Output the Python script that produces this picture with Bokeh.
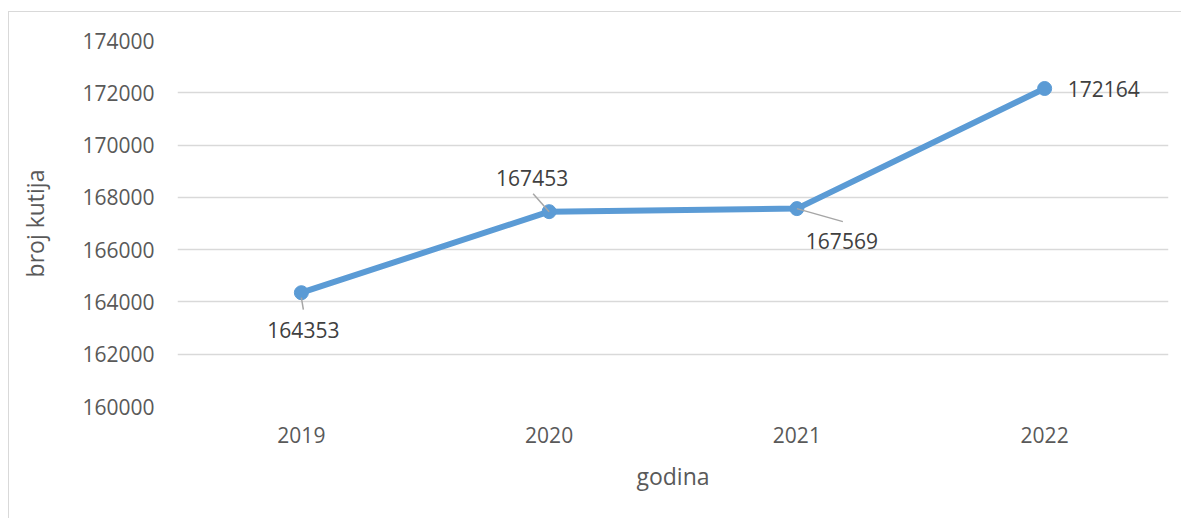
from bokeh.plotting import figure
from bokeh.models import FactorRange, Range1d, ColumnDataSource, FixedTicker, NumeralTickFormatter
from bokeh.core.properties import value
from bokeh.embed import file_html
from bokeh.resources import INLINE

# ---- data ----
years = ["2019", "2020", "2021", "2022"]
boxes = [164353, 167453, 167569, 172164]
y_ticks = [160000, 162000, 164000, 166000, 168000, 170000, 172000, 174000]
x_title = "godina"
y_title = "broj kutija"

# ---- label placement styles (screen px, +y = down) ----
lab_dx = [2, -17, 45, 23]
lab_dy = [37, -34, 32, 1]
lab_align = ["center", "center", "center", "left"]
# leader lines: start / end offsets from the point (screen px, +y = down)
lead_sx = [0, -16, 0, None]
lead_sy = [5, -18, 0, None]
lead_ex = [2, 0, 46, None]
lead_ey = [17, 0, 13, None]

FONT = "Open Sans"
FRAME_W, FRAME_H = 991, 366
Y0, Y1 = 160000, 174000

p = figure(
    x_range=FactorRange(*years),
    y_range=Range1d(Y0, Y1),
    frame_width=FRAME_W, frame_height=FRAME_H,
    min_border_left=168, min_border_right=13,
    min_border_top=28, min_border_bottom=112,
    output_backend="svg", toolbar_location=None,
    background_fill_color="white", border_fill_color="white",
)
p.styles = {"border-top": "1px solid #d9d9d9", "border-left": "1px solid #d9d9d9",
            "margin-top": "11px", "margin-left": "8px"}
p.outline_line_color = None
p.x_range.range_padding = 0
p.x_range.factor_padding = 0

# grid
p.xgrid.grid_line_color = None
p.ygrid.ticker = FixedTicker(ticks=y_ticks)
p.ygrid.grid_line_color = "#d9d9d9"
p.ygrid.grid_line_width = 1.5

# axes
for ax in (p.xaxis[0], p.yaxis[0]):
    ax.axis_line_color = None
    ax.major_tick_line_color = None
    ax.minor_tick_line_color = None
    ax.major_tick_out = 0
    ax.major_tick_in = 0
    ax.minor_tick_out = 0
    ax.major_label_text_font = FONT
    ax.major_label_text_font_size = "21px"
    ax.major_label_text_color = "#595959"
    ax.axis_label_text_font = FONT
    ax.axis_label_text_font_size = "23px"
    ax.axis_label_text_font_style = "normal"
    ax.axis_label_text_color = "#595959"

p.yaxis[0].ticker = FixedTicker(ticks=y_ticks)
p.yaxis[0].formatter = NumeralTickFormatter(format="0")
p.yaxis[0].major_label_standoff = 23
p.yaxis[0].axis_label = y_title
p.yaxis[0].axis_label_standoff = 28
p.xaxis[0].major_label_standoff = 20
p.xaxis[0].axis_label = x_title
p.xaxis[0].axis_label_standoff = 14

src = ColumnDataSource(dict(year=years, v=boxes, lab=[str(b) for b in boxes],
                            dx=lab_dx, dy=lab_dy, align=lab_align))

p.line("year", "v", source=src, line_color="#5b9bd5", line_width=6,
       line_join="round", line_cap="round")
p.scatter("year", "v", source=src, size=14, fill_color="#5b9bd5",
          line_color="#5b9bd5")

# leader lines (converted from pixel offsets to data space)
px_x = len(years) / FRAME_W
px_y = (Y1 - Y0) / FRAME_H
lx0, ly0, lx1, ly1 = [], [], [], []
for i, v in enumerate(boxes):
    if lead_sx[i] is None:
        continue
    cx = i + 0.5
    lx0.append(cx + lead_sx[i] * px_x)
    ly0.append(v - lead_sy[i] * px_y)
    lx1.append(cx + lead_ex[i] * px_x)
    ly1.append(v - lead_ey[i] * px_y)
p.segment(x0=lx0, y0=ly0, x1=lx1, y1=ly1, line_color="#a6a6a6", line_width=1.5)

p.text("year", "v", text="lab", source=src, x_offset="dx", y_offset="dy",
       text_align="align", text_baseline="middle",
       text_font=value(FONT), text_font_size="21px", text_color="#404040")

open("out.html", "w").write(file_html(p, INLINE))
